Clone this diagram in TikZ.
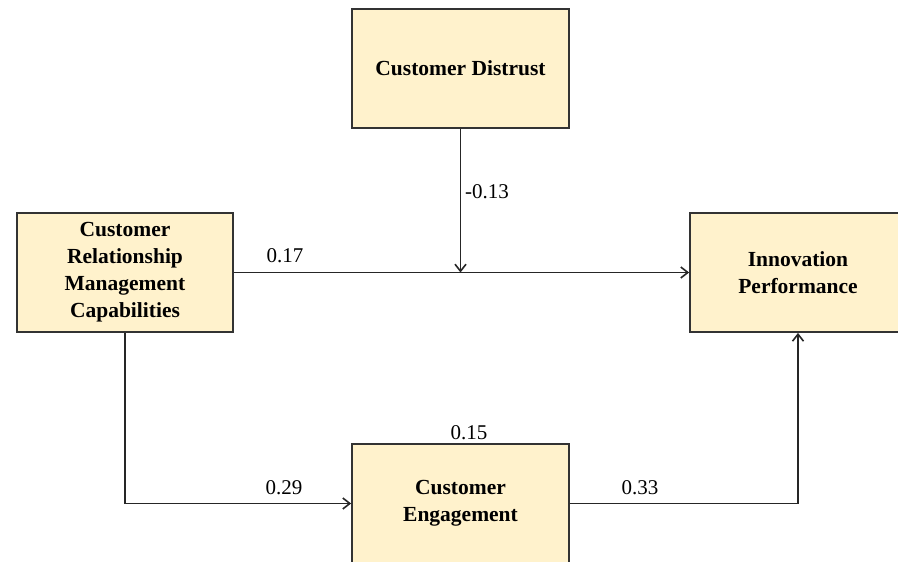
\documentclass[tikz,border=0pt]{standalone}
\usepackage{fontspec}
\setmainfont{Liberation Serif}
\usetikzlibrary{arrows.meta}
\definecolor{boxfill}{HTML}{FFF2CC}
\definecolor{boxline}{HTML}{333333}
\tikzset{
  box/.style={draw=boxline, line width=1.8pt, fill=boxfill, minimum width=216pt, minimum height=119pt,
    align=center, font=\fontsize{21.5}{27}\selectfont\bfseries, inner sep=0pt},
  arr/.style={draw=black!85, line width=1.8pt, -{Straight Barb[length=7pt,width=11pt,line width=1.6pt]}},
  lbl/.style={font=\fontsize{21}{24}\selectfont, inner sep=0pt}
}
\begin{document}
\begin{tikzpicture}[x=1pt,y=-1pt]
\useasboundingbox (0,0) rectangle (898,562);
\clip (0,0) rectangle (898,562);
\fill[white] (0,0) rectangle (898,562);
\node[box, minimum width=217pt] (cd) at (460.5,68.5) {Customer Distrust};
\node[box] (crmc) at (125,272.5) {Customer\\Relationship\\Management\\Capabilities};
\node[box] (ip) at (798,272.5) {Innovation\\Performance};
\node[box, minimum width=217pt] (ce) at (460.5,503.5) {Customer\\Engagement};
\draw[arr] (crmc.east) -- (ip.west);
\draw[arr] (cd.south) -- (cd.south |- crmc.east);
\draw[arr] (crmc.south) |- (ce.west);
\draw[arr] (ce.east) -| (ip.south);
\node[lbl] (l1) at (487,192) {-0.13};
\node[lbl] (l2) at (285,256) {0.17};
\node[lbl] (l3) at (284,488) {0.29};
\node[lbl] (l4) at (640,488) {0.33};
\node[lbl] (l5) at (469,433) {0.15};
\end{tikzpicture}
\end{document}
